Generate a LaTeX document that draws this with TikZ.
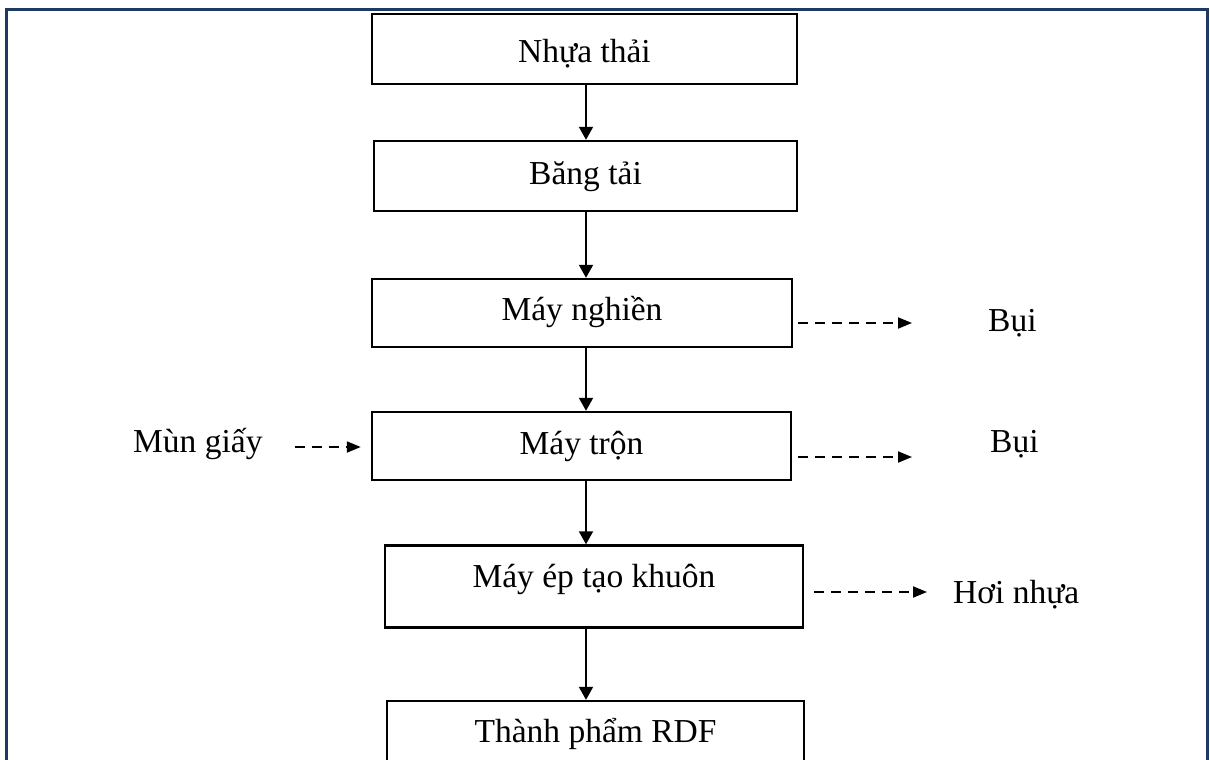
\documentclass[tikz,border=0pt]{standalone}
\usepackage{fontspec}
\setmainfont{Liberation Serif}
\usetikzlibrary{arrows.meta}
\definecolor{framecol}{RGB}{31,56,100}
\begin{document}
\begin{tikzpicture}[x=1pt,y=-1pt,
  stepbox/.style={draw=black,line width=2.4pt,font=\fontsize{33.5}{38}\selectfont,inner sep=0pt,text depth=0pt},
  lbl/.style={font=\fontsize{33.5}{38}\selectfont,inner sep=0pt},
  arr/.style={line width=2pt,-{Triangle[length=13pt,width=14pt]}},
  darr/.style={line width=2pt,dash pattern=on 10pt off 7pt,-{Triangle[length=14pt,width=11pt]}}]
\useasboundingbox (0,0) rectangle (1210,760);
\clip (0,0) rectangle (1210,760);
\draw[framecol,line width=3pt] (6.5,770) -- (6.5,10) -- (1207,10) -- (1207,770);
\node[stepbox,minimum width=425pt,minimum height=70pt,text height=28pt] (n1) at (584.5,49) {Nhựa thải};
\node[stepbox,minimum width=423pt,minimum height=70pt,text height=16pt] (n2) at (585.5,176) {Băng tải};
\node[stepbox,minimum width=420pt,minimum height=68pt,text height=14pt] (n3) at (582,313) {Máy nghiền};
\node[stepbox,minimum width=419pt,minimum height=68pt,text height=16pt] (n4) at (581.5,446) {Máy trộn};
\node[stepbox,minimum width=418pt,minimum height=82pt,text height=1pt] (n5) at (594,586.5) {Máy ép tạo khuôn};
\node[stepbox,minimum width=417pt,minimum height=80pt,text height=2pt] (n6) at (595.5,741) {Thành phẩm RDF};
\coordinate (ax) at (586,0);
\draw[arr] (n1.south -| ax) -- (n2.north -| ax);
\draw[arr] (n2.south -| ax) -- (n3.north -| ax);
\draw[arr] (n3.south -| ax) -- (n4.north -| ax);
\draw[arr] (n4.south -| ax) -- (n5.north -| ax);
\draw[arr] (n5.south -| ax) -- (n6.north -| ax);
\node[lbl,anchor=base west] (b1) at (988,331) {Bụi};
\node[lbl,anchor=base west] (b2) at (990,452) {Bụi};
\node[lbl,anchor=base west] (hn) at (953,603) {Hơi nhựa};
\node[lbl,anchor=base west] (mg) at (133,452) {Mùn giấy};
\draw[darr] ([shift={(5,10)}]n3.east) -- ([shift={(-76,-8)}]b1.base west);
\draw[darr] ([shift={(6,11)}]n4.east) -- ([shift={(-78,5)}]b2.base west);
\draw[darr] ([shift={(10,5.5)}]n5.east) -- ([shift={(-26,-11)}]hn.base west);
\draw[darr] ([shift={(32,-5)}]mg.base east) -- ([shift={(-10,1)}]n4.west);
\end{tikzpicture}
\end{document}
